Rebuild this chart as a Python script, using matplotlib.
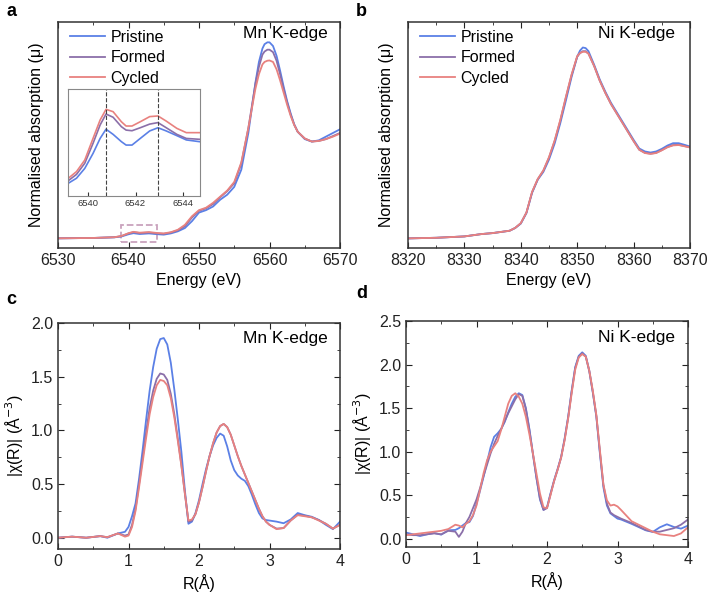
import numpy as np
import matplotlib.pyplot as plt
from matplotlib.patches import Rectangle
from matplotlib.ticker import MultipleLocator

plt.rcParams['font.family'] = ['Liberation Sans', 'DejaVu Sans']

labels = ["Pristine", "Formed", "Cycled"]
colors = ["#5b80e6", "#8b6fa9", "#e8817f"]

# Mn K-edge XANES (panel a)
mn_e = [6530, 6535, 6538, 6539, 6540, 6540.7, 6541.6, 6542.9, 6544, 6545, 6546, 6547, 6548, 6549,
        6550, 6551, 6552, 6553, 6554, 6555, 6556, 6557, 6558, 6558.5, 6559, 6559.3, 6559.7, 6560,
        6560.5, 6561, 6561.5, 6562, 6562.5, 6563, 6563.5, 6564, 6565, 6566, 6567, 6568, 6569, 6570]
mn_pristine = [0.0, 0.003, 0.008, 0.015, 0.033, 0.042, 0.035, 0.040, 0.034, 0.030, 0.040, 0.057, 0.084, 0.14,
               0.21, 0.23, 0.26, 0.315, 0.356, 0.42, 0.56, 0.86, 1.27, 1.44, 1.55, 1.585, 1.60, 1.60,
               1.57, 1.49, 1.37, 1.24, 1.12, 1.02, 0.93, 0.87, 0.81, 0.79, 0.80, 0.83, 0.86, 0.89]
mn_formed = [0.0, 0.003, 0.009, 0.018, 0.040, 0.050, 0.043, 0.047, 0.040, 0.037, 0.047, 0.065, 0.10, 0.17,
             0.225, 0.245, 0.28, 0.335, 0.385, 0.45, 0.61, 0.90, 1.26, 1.40, 1.50, 1.525, 1.54, 1.54,
             1.52, 1.45, 1.34, 1.22, 1.11, 1.01, 0.93, 0.87, 0.815, 0.79, 0.795, 0.81, 0.835, 0.86]
mn_cycled = [0.0, 0.003, 0.009, 0.019, 0.042, 0.053, 0.046, 0.051, 0.044, 0.040, 0.050, 0.070, 0.11, 0.18,
             0.23, 0.25, 0.29, 0.34, 0.39, 0.46, 0.62, 0.90, 1.22, 1.34, 1.42, 1.44, 1.45, 1.452,
             1.44, 1.38, 1.29, 1.19, 1.09, 1.00, 0.925, 0.87, 0.815, 0.79, 0.795, 0.81, 0.83, 0.855]

# Mn pre-edge (inset)
pre_e = [6539.1, 6539.5, 6539.85, 6540.2, 6540.5, 6540.75, 6541.05, 6541.4, 6541.6, 6541.85,
         6542.2, 6542.6, 6542.95, 6543.3, 6543.75, 6544.15, 6544.7]
pre_pristine = [0.0206, 0.0233, 0.0279, 0.0349, 0.0419, 0.0462, 0.0438, 0.0404, 0.0388, 0.0388,
                0.0419, 0.0454, 0.0469, 0.0454, 0.0432, 0.0412, 0.0404]
pre_formed = [0.0217, 0.0251, 0.0303, 0.0396, 0.0482, 0.0533, 0.0518, 0.0474, 0.0458, 0.0455,
              0.0469, 0.0486, 0.0493, 0.0469, 0.0438, 0.0419, 0.0415]
pre_cycled = [0.0228, 0.0264, 0.0318, 0.0419, 0.0505, 0.0555, 0.0544, 0.0497, 0.0477, 0.0477,
              0.0497, 0.0521, 0.0524, 0.0500, 0.0466, 0.0446, 0.0446]
pre_lines = [6540.75, 6542.95]

# Ni K-edge XANES (panel b)
ni_e = [8320, 8325, 8330, 8333, 8335, 8338, 8339, 8340, 8341, 8342, 8343, 8344, 8345, 8346, 8347,
        8348, 8349, 8350, 8350.5, 8351, 8351.5, 8352, 8353, 8354, 8355, 8356, 8358, 8360, 8361, 8362,
        8363, 8364, 8365, 8366, 8367, 8368, 8369, 8370]
ni_pristine = [0.0, 0.005, 0.016, 0.035, 0.043, 0.062, 0.084, 0.12, 0.205, 0.37, 0.476, 0.54, 0.64, 0.77, 0.935,
               1.12, 1.31, 1.475, 1.525, 1.55, 1.545, 1.52, 1.41, 1.29, 1.19, 1.10, 0.95, 0.80, 0.73, 0.706,
               0.697, 0.706, 0.727, 0.754, 0.773, 0.773, 0.76, 0.746]
ni_formed = [0.0, 0.005, 0.016, 0.035, 0.043, 0.062, 0.085, 0.123, 0.21, 0.375, 0.48, 0.55, 0.655, 0.79, 0.955,
             1.145, 1.325, 1.475, 1.505, 1.52, 1.52, 1.50, 1.40, 1.28, 1.18, 1.09, 0.94, 0.79, 0.72, 0.695,
             0.688, 0.695, 0.717, 0.742, 0.758, 0.76, 0.75, 0.74]
ni_cycled = [0.0, 0.005, 0.016, 0.035, 0.043, 0.062, 0.085, 0.124, 0.21, 0.378, 0.482, 0.552, 0.66, 0.795, 0.962,
             1.15, 1.33, 1.48, 1.505, 1.515, 1.515, 1.50, 1.40, 1.28, 1.18, 1.09, 0.94, 0.79, 0.72, 0.693,
             0.686, 0.693, 0.715, 0.74, 0.755, 0.758, 0.748, 0.738]

# Mn FT-EXAFS (panel c)
mn_r = [0.0, 0.2, 0.4, 0.6, 0.7, 0.85, 0.95, 1.0,
        1.05, 1.1, 1.15, 1.2, 1.25, 1.3, 1.35, 1.4, 1.45, 1.5, 1.55, 1.6, 1.65, 1.7, 1.75, 1.8, 1.85,
        1.9, 1.95, 2.0, 2.05, 2.1, 2.15, 2.2, 2.25, 2.3, 2.35, 2.4, 2.45, 2.5, 2.55, 2.6, 2.65, 2.7,
        2.75, 2.8, 2.85, 2.9, 2.95,
        3.0, 3.1, 3.2, 3.3, 3.4, 3.5, 3.6, 3.7, 3.8, 3.9, 4.0]
mn_r_pristine = [0.0, 0.01, 0.0, 0.015, 0.0, 0.04, 0.055, 0.10,
                 0.20, 0.32, 0.55, 0.815, 1.10, 1.37, 1.59, 1.76, 1.85, 1.86, 1.80, 1.63, 1.38, 1.10, 0.80, 0.44, 0.13,
                 0.15, 0.23, 0.35, 0.50, 0.64, 0.76, 0.86, 0.93, 0.97, 0.95, 0.85, 0.72, 0.63, 0.58, 0.55, 0.53, 0.48,
                 0.40, 0.31, 0.23, 0.18, 0.165,
                 0.16, 0.15, 0.135, 0.17, 0.23, 0.21, 0.195, 0.165, 0.12, 0.08, 0.15]
mn_r_formed = [0.0, 0.01, 0.0, 0.015, 0.005, 0.04, 0.02, 0.03,
               0.12, 0.27, 0.50, 0.74, 0.98, 1.21, 1.37, 1.48, 1.53, 1.52, 1.47, 1.34, 1.15, 0.92, 0.68, 0.41, 0.15,
               0.16, 0.22, 0.33, 0.47, 0.62, 0.76, 0.88, 0.98, 1.04, 1.06, 1.03, 0.96, 0.86, 0.76, 0.67, 0.59, 0.51,
               0.43, 0.35, 0.27, 0.20, 0.15,
               0.12, 0.085, 0.09, 0.16, 0.215, 0.205, 0.19, 0.165, 0.13, 0.085, 0.12]
mn_r_cycled = [0.0, 0.01, 0.0, 0.015, 0.005, 0.04, 0.01, 0.02,
               0.10, 0.25, 0.47, 0.70, 0.93, 1.15, 1.31, 1.42, 1.47, 1.46, 1.42, 1.30, 1.12, 0.90, 0.67, 0.41, 0.16,
               0.17, 0.22, 0.33, 0.47, 0.62, 0.76, 0.88, 0.98, 1.04, 1.06, 1.03, 0.96, 0.86, 0.76, 0.67, 0.59, 0.51,
               0.43, 0.35, 0.27, 0.20, 0.15,
               0.12, 0.08, 0.09, 0.16, 0.21, 0.20, 0.19, 0.16, 0.13, 0.085, 0.12]

# Ni FT-EXAFS (panel d)
ni_r = [0.0, 0.1, 0.2, 0.3, 0.4, 0.5, 0.6, 0.7, 0.75, 0.8, 0.85,
        0.9, 0.95, 1.0, 1.05, 1.1, 1.15, 1.2, 1.25, 1.3, 1.35, 1.4, 1.45, 1.5, 1.55, 1.6, 1.65, 1.7,
        1.75, 1.8, 1.85, 1.9, 1.95, 2.0, 2.05, 2.1, 2.15, 2.2, 2.25, 2.3, 2.35, 2.4, 2.45, 2.5, 2.55,
        2.6, 2.65, 2.7, 2.75, 2.8, 2.85, 2.9, 2.95,
        3.0, 3.05, 3.2, 3.4, 3.5, 3.6, 3.7, 3.8, 3.9, 4.0]
ni_r_pristine = [0.07, 0.05, 0.03, 0.05, 0.065, 0.046, 0.096, 0.10, 0.12, 0.15, 0.18,
                 0.19, 0.26, 0.40, 0.55, 0.71, 0.88, 1.05, 1.17, 1.21, 1.26, 1.34, 1.45, 1.55, 1.63, 1.67, 1.65, 1.50,
                 1.26, 0.98, 0.70, 0.45, 0.33, 0.36, 0.52, 0.67, 0.80, 0.94, 1.15, 1.40, 1.70, 1.97, 2.10, 2.14, 2.10,
                 1.93, 1.68, 1.40, 0.98, 0.59, 0.38, 0.29, 0.26,
                 0.23, 0.22, 0.17, 0.096, 0.077, 0.13, 0.165, 0.134, 0.115, 0.15]
ni_r_formed = [0.05, 0.04, 0.04, 0.05, 0.06, 0.05, 0.09, 0.08, 0.02, 0.08, 0.18,
               0.25, 0.35, 0.45, 0.58, 0.72, 0.85, 0.98, 1.09, 1.18, 1.26, 1.35, 1.44, 1.52, 1.60, 1.66, 1.64, 1.49,
               1.25, 0.97, 0.70, 0.46, 0.33, 0.35, 0.51, 0.66, 0.79, 0.93, 1.14, 1.39, 1.69, 1.96, 2.09, 2.13, 2.09,
               1.92, 1.68, 1.41, 1.00, 0.62, 0.40, 0.30, 0.27,
               0.25, 0.23, 0.18, 0.10, 0.08, 0.08, 0.10, 0.12, 0.16, 0.22]
ni_r_cycled = [0.04, 0.05, 0.06, 0.07, 0.08, 0.09, 0.11, 0.16, 0.15, 0.13, 0.17,
               0.20, 0.27, 0.38, 0.56, 0.75, 0.90, 1.00, 1.06, 1.12, 1.25, 1.40, 1.55, 1.64, 1.67, 1.63, 1.55, 1.40,
               1.20, 0.98, 0.75, 0.52, 0.36, 0.35, 0.50, 0.66, 0.79, 0.93, 1.13, 1.38, 1.67, 1.94, 2.08, 2.12, 2.09,
               1.93, 1.70, 1.42, 1.02, 0.62, 0.44, 0.38, 0.39,
               0.37, 0.33, 0.20, 0.12, 0.08, 0.05, 0.04, 0.03, 0.06, 0.13]


def style(ax, xmaj, xmin, ymaj=None, ymin=None):
    ax.tick_params(which='both', direction='in', top=True, right=True, labelsize=11.5, colors='#222222')
    ax.tick_params(which='major', length=4)
    ax.tick_params(which='minor', length=2)
    ax.xaxis.set_major_locator(MultipleLocator(xmaj))
    ax.xaxis.set_minor_locator(MultipleLocator(xmin))
    if ymaj is None:
        ax.set_yticks([])
    else:
        ax.yaxis.set_major_locator(MultipleLocator(ymaj))
        ax.yaxis.set_minor_locator(MultipleLocator(ymin))
    for s in ax.spines.values():
        s.set_color('#333333')
        s.set_linewidth(1.1)


fig = plt.figure(figsize=(7.09, 5.97), dpi=100)
W, H = 709, 597


def add_ax(l, t, r, b):
    return fig.add_axes([l / W, 1 - b / H, (r - l) / W, (b - t) / H])


ax_a = add_ax(58, 22, 340, 248)
ax_b = add_ax(408, 22, 690, 248)
ax_c = add_ax(58, 323, 340, 549)
ax_d = add_ax(406, 321, 688, 547)

leg_kw = dict(loc='upper left', bbox_to_anchor=(-0.01, 1.03), frameon=False, fontsize=11.5,
              handlelength=2.2, labelspacing=0.35, handletextpad=0.35)

# panel a
for y, lab, c in zip([mn_pristine, mn_formed, mn_cycled], labels, colors):
    ax_a.plot(mn_e, y, color=c, lw=1.3, label=lab)
ax_a.set_xlim(6530, 6570)
ax_a.set_ylim(-0.079, 1.766)
style(ax_a, 10, 5)
ax_a.set_xlabel("Energy (eV)", fontsize=11.5)
ax_a.set_ylabel("Normalised absorption (μ)", fontsize=11.5, labelpad=10)
ax_a.add_patch(Rectangle((6538.9, -0.033), 5.1, 0.143, fill=False, ec='#c9a3bd', ls='--', lw=1.3))
ax_a.text(0.957, 0.95, "Mn K-edge", transform=ax_a.transAxes, ha='right', va='center', fontsize=12.5)
ax_a.legend(**leg_kw)

ins = add_ax(68, 89, 200, 196)
for y, c in zip([pre_pristine, pre_formed, pre_cycled], colors):
    ins.plot(pre_e, y, color=c, lw=1.2)
for xv in pre_lines:
    ins.axvline(xv, color='#444444', ls='--', lw=0.8)
ins.set_xlim(6539.14, 6544.73)
ins.set_ylim(0.015, 0.065)
ins.set_xticks([6540, 6542, 6544])
ins.set_yticks([])
ins.tick_params(direction='in', labelsize=6.8, length=3, colors='#333333', pad=2)
for s in ins.spines.values():
    s.set_color('#888888')

# panel b
for y, lab, c in zip([ni_pristine, ni_formed, ni_cycled], labels, colors):
    ax_b.plot(ni_e, y, color=c, lw=1.3, label=lab)
ax_b.set_xlim(8320, 8370)
ax_b.set_ylim(-0.078, 1.757)
style(ax_b, 10, 5)
ax_b.set_xlabel("Energy (eV)", fontsize=11.5)
ax_b.set_ylabel("Normalised absorption (μ)", fontsize=11.5, labelpad=10)
ax_b.text(0.947, 0.95, "Ni K-edge", transform=ax_b.transAxes, ha='right', va='center', fontsize=12.5)
ax_b.legend(**leg_kw)

# panel c
for y, c in zip([mn_r_pristine, mn_r_formed, mn_r_cycled], colors):
    ax_c.plot(mn_r, y, color=c, lw=1.3)
ax_c.set_xlim(0, 4)
ax_c.set_ylim(-0.105, 2.0)
style(ax_c, 1, 0.5, 0.5, 0.25)
ax_c.set_xlabel("R(Å)", fontsize=11.5)
ax_c.set_ylabel("|χ(R)| (Å$^{-3}$)", fontsize=11.5)
ax_c.text(0.957, 0.93, "Mn K-edge", transform=ax_c.transAxes, ha='right', va='center', fontsize=12.5)

# panel d
for y, c in zip([ni_r_pristine, ni_r_formed, ni_r_cycled], colors):
    ax_d.plot(ni_r, y, color=c, lw=1.3)
ax_d.set_xlim(0, 4)
ax_d.set_ylim(-0.096, 2.5)
style(ax_d, 1, 0.5, 0.5, 0.25)
ax_d.set_xlabel("R(Å)", fontsize=11.5)
ax_d.set_ylabel("|χ(R)| (Å$^{-3}$)", fontsize=11.5)
ax_d.text(0.954, 0.925, "Ni K-edge", transform=ax_d.transAxes, ha='right', va='center', fontsize=12.5)

for lab, x, y in [("a", 6, 12), ("b", 356, 12), ("c", 6, 300), ("d", 356, 293)]:
    fig.text(x / W, 1 - y / H, lab, fontsize=13, fontweight='bold', va='center', ha='left')

fig.savefig("out.png", dpi=100)
